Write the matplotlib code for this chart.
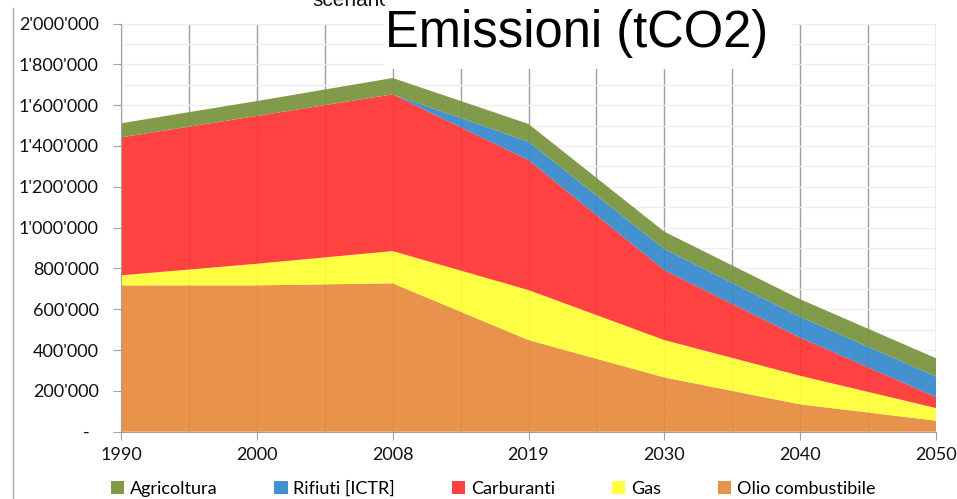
import matplotlib.pyplot as plt
import matplotlib.ticker as mticker
from matplotlib.patches import Rectangle
from matplotlib.lines import Line2D

years = ["1990", "2000", "2008", "2019", "2030", "2040", "2050"]

# tCO2 per sector
olio = [717000, 717000, 727000, 449000, 266000, 134000, 54000]
gas = [49000, 106000, 158000, 245000, 183000, 140000, 62000]
carburanti = [676000, 724000, 768000, 637000, 343000, 187000, 54000]
rifiuti = [0, 0, 0, 90000, 103000, 102000, 100000]
agricoltura = [69000, 73000, 80000, 87000, 85000, 86000, 90000]

labels = ["Olio combustibile", "Gas", "Carburanti", "Rifiuti [ICTR]", "Agricoltura"]
colors = ["#E8893B", "#FFFF33", "#FF3333", "#3388CB", "#77933C"]

FONT = "Lato"
FS = 13

fig = plt.figure(figsize=(9.57, 4.99), dpi=100)
ax = fig.add_axes([121 / 957, 1 - 431.7 / 499, (936 - 121) / 957, (431.7 - 23.5) / 499])

x = list(range(len(years)))
polys = ax.stackplot(x, olio, gas, carburanti, rifiuti, agricoltura,
                     colors=colors, labels=labels, alpha=0.92, zorder=2, linewidth=0)

ax.set_xlim(0, len(years) - 1)
ax.set_ylim(0, 2000000)
ax.set_xticks(x)
ax.set_xticklabels(years)
ax.set_xticks([i + 0.5 for i in x[:-1]], minor=True)
ax.yaxis.set_major_locator(mticker.MultipleLocator(200000))
ax.yaxis.set_minor_locator(mticker.MultipleLocator(100000))


def fmt(v, pos):
    if v == 0:
        return "-  "
    return f"{v:,.0f}".replace(",", "'")


ax.yaxis.set_major_formatter(mticker.FuncFormatter(fmt))

ax.grid(axis="x", which="both", color="#a0a0a0", linewidth=1, zorder=1)
ax.grid(axis="y", which="both", color="#eeeeee", linewidth=1, zorder=0)
ax.set_axisbelow(True)

for s in ["top", "right"]:
    ax.spines[s].set_visible(False)
ax.spines["left"].set_color("#a0a0a0")
ax.spines["bottom"].set_color("#a0a0a0")
ax.tick_params(axis="x", which="major", length=6, color="#a0a0a0", pad=5,
               labelsize=FS, labelcolor="#111111")
ax.tick_params(axis="x", which="minor", length=0)
ax.tick_params(axis="y", which="major", length=6, color="#a0a0a0", pad=10,
               labelsize=FS, labelcolor="#111111")
ax.tick_params(axis="y", which="minor", length=0)
for t in ax.get_xticklabels() + ax.get_yticklabels():
    t.set_fontfamily(FONT)

# legend below the plot, Excel order
h, l = ax.get_legend_handles_labels()
order = [4, 3, 2, 1, 0]
leg = fig.legend([h[i] for i in order], [l[i] for i in order],
                 loc="center", bbox_to_anchor=(0.515, 1 - 489 / 499), ncol=5,
                 frameon=False, handlelength=0.75, handleheight=0.75,
                 handletextpad=0.3, columnspacing=3.15,
                 prop={"family": FONT, "size": FS})

# outer chart frame on the left
fig.add_artist(Line2D([13 / 957, 13 / 957], [0, 1 - 8 / 499], color="#a8a8a8",
                      linewidth=1, transform=fig.transFigure))

# cut-off subtitle behind the title box
fig.text(312 / 957, 1 - 6 / 499, "scenario", fontsize=15, fontfamily="Liberation Sans",
         ha="left", va="baseline", color="#111111", zorder=4)
fig.add_artist(Rectangle((385 / 957, 1 - 69 / 499), (792 - 385) / 957, 69 / 499,
                         transform=fig.transFigure, facecolor="white",
                         edgecolor="none", zorder=5))
fig.text(577 / 957, 1 - 47 / 499, "Emissioni (tCO2)", fontsize=36.5,
         fontfamily="Liberation Sans", ha="center", va="baseline", color="black", zorder=6)

fig.savefig("out.png", dpi=100)
